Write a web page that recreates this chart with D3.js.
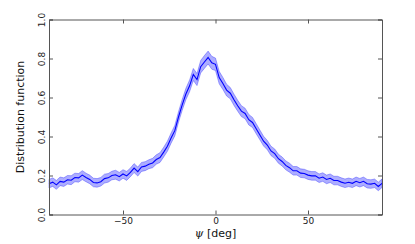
<!DOCTYPE html>
<html>
<head>
<meta charset="utf-8">
<script src="https://cdn.jsdelivr.net/npm/d3@7"></script>
<style>
  body { margin: 0; background: #fff; }
  text { font-family: "DejaVu Sans", sans-serif; }
</style>
</head>
<body>
<div id="svg-holder"></div>
<script>
// angle grid (deg)
let psi = [-90,-88,-86,-84,-82,-80,-78,-76,-74,-72,-70,-68,-66,-64,-62,-60,-58,-56,-54,-52,
  -50,-48,-46,-44,-42,-40,-38,-36,-34,-32,-30,-28,-26,-24,-22,-20,-18,-16,-14,-12,
  -10,-8,-6,-4,-2,0,2,4,6,8,10,12,14,16,18,20,22,24,26,28,
  30,32,34,36,38,40,42,44,46,48,50,52,54,56,58,60,62,64,66,68,
  70,72,74,76,78,80,82,84,86,88,90]
// distribution function (mean)
let dist = [0.158,0.166,0.152,0.170,0.166,0.178,0.176,0.190,0.188,0.202,0.190,0.180,0.164,0.162,0.168,0.184,0.188,0.200,0.204,0.194,
  0.208,0.198,0.216,0.238,0.220,0.244,0.248,0.258,0.264,0.282,0.292,0.320,0.350,0.392,0.430,0.500,0.562,0.618,0.660,0.718,
  0.692,0.758,0.782,0.805,0.778,0.770,0.702,0.672,0.638,0.622,0.588,0.558,0.530,0.518,0.486,0.472,0.440,0.408,0.376,0.356,
  0.326,0.312,0.286,0.272,0.252,0.240,0.224,0.224,0.212,0.210,0.202,0.198,0.198,0.186,0.192,0.180,0.186,0.174,0.174,0.166,
  0.160,0.165,0.160,0.170,0.163,0.170,0.158,0.156,0.160,0.144,0.160]
// half width of the shaded band
let err = [0.022,0.022,0.023,0.022,0.022,0.022,0.023,0.022,0.022,0.023,0.022,0.022,0.022,0.022,0.022,0.023,0.022,0.022,0.023,0.022,
  0.022,0.023,0.022,0.023,0.023,0.023,0.023,0.023,0.024,0.024,0.025,0.025,0.026,0.026,0.027,0.027,0.028,0.029,0.030,0.031,
  0.031,0.032,0.033,0.033,0.033,0.032,0.032,0.031,0.030,0.029,0.029,0.028,0.028,0.027,0.027,0.026,0.026,0.025,0.025,0.024,
  0.024,0.024,0.023,0.023,0.023,0.023,0.022,0.022,0.022,0.022,0.022,0.022,0.022,0.022,0.022,0.022,0.022,0.022,0.022,0.022,
  0.022,0.022,0.022,0.022,0.022,0.022,0.022,0.022,0.022,0.022,0.022]
let xTicks = [-50, 0, 50]
let yTicks = [0.0, 0.2, 0.4, 0.6, 0.8, 1.0]

let W = 415, H = 244
let pLeft = 49, pRight = 382, pTop = 19.5, pBottom = 214.5

let svg = d3.select("#svg-holder").append('svg')
svg.attr("width", W).attr("height", H)

let x = d3.scaleLinear().domain([-90, 90]).range([pLeft, pRight])
let y = d3.scaleLinear().domain([0, 1]).range([pBottom, pTop])

let pts = psi.map((p, i) => ({p: p, v: dist[i], e: err[i]}))

// shaded band
svg.append("path")
  .datum(pts)
  .attr("d", d3.area().x(d => x(d.p)).y0(d => y(d.v - d.e)).y1(d => y(d.v + d.e)))
  .attr("fill", "blue")
  .attr("fill-opacity", 0.32)
  .attr("stroke", "blue")
  .attr("stroke-opacity", 0.3)
  .attr("stroke-width", 1)

// mean line
svg.append("path")
  .datum(pts)
  .attr("d", d3.line().x(d => x(d.p)).y(d => y(d.v)))
  .attr("fill", "none")
  .attr("stroke", "blue")
  .attr("stroke-width", 1.1)

// axes, ticks inward on all sides
let fmtX = d => d < 0 ? "\u2212" + Math.abs(d) : "" + d
let gx = svg.append("g").attr("transform", `translate(0,${pBottom})`)
  .call(d3.axisBottom(x).tickValues(xTicks).tickSize(-4).tickPadding(3).tickFormat(fmtX))
let gxt = svg.append("g").attr("transform", `translate(0,${pTop})`)
  .call(d3.axisTop(x).tickValues(xTicks).tickSize(-4).tickFormat(""))
let gy = svg.append("g").attr("transform", `translate(${pLeft},0)`)
  .call(d3.axisLeft(y).tickValues(yTicks).tickSize(-4).tickPadding(6).tickFormat(d3.format(".1f")))
let gyr = svg.append("g").attr("transform", `translate(${pRight},0)`)
  .call(d3.axisRight(y).tickValues(yTicks).tickSize(-4).tickFormat(""))

;[gx, gxt, gy, gyr].forEach(g => {
  g.select(".domain").attr("stroke", "#555").attr("stroke-width", 1)
  g.selectAll(".tick line").attr("stroke", "#555")
  g.selectAll("text").attr("font-size", 9).attr("fill", "#222")
    .attr("font-family", "DejaVu Sans, sans-serif")
})

// y tick labels are vertical
gy.selectAll(".tick text")
  .attr("text-anchor", "middle")
  .attr("dy", null)
  .attr("x", null)
  .attr("y", 0)
  .attr("transform", "translate(-4,0) rotate(-90)")

// axis labels
svg.append("text")
  .attr("transform", `translate(24,${(pTop + pBottom) / 2}) rotate(-90)`)
  .attr("text-anchor", "middle")
  .attr("font-size", 11)
  .attr("fill", "#111")
  .text("Distribution function")

let xl = svg.append("text")
  .attr("x", x(0))
  .attr("y", 237)
  .attr("text-anchor", "middle")
  .attr("font-size", 11)
  .attr("fill", "#111")
xl.append("tspan").attr("font-style", "italic").attr("font-family", "DejaVu Serif, serif").text("\u03c8")
xl.append("tspan").text(" [deg]")
</script>
</body>
</html>
